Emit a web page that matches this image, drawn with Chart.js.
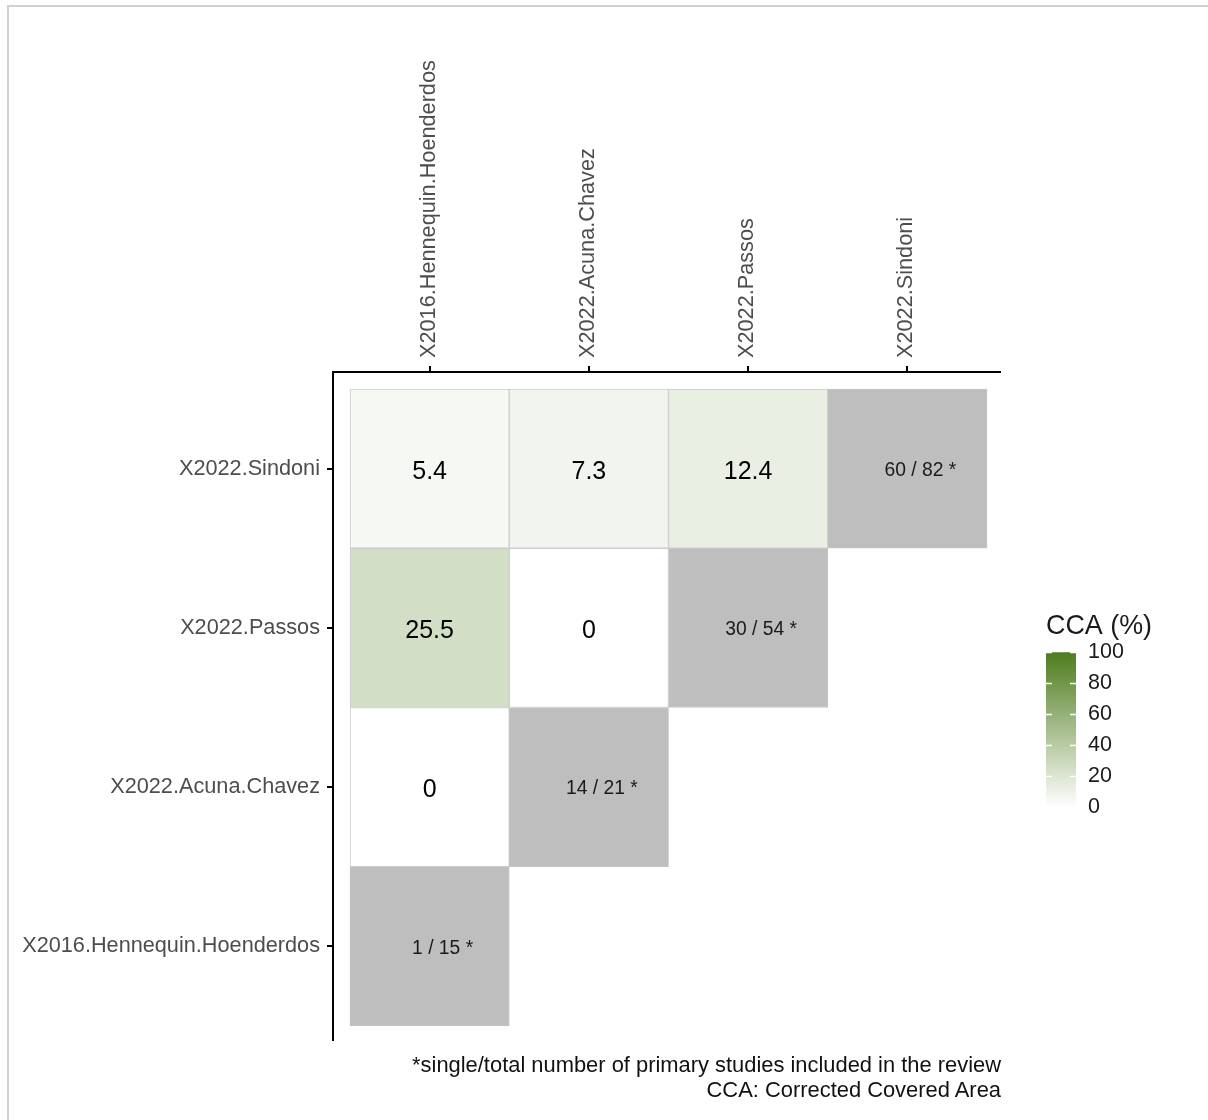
<!DOCTYPE html>
<html>
<head>
<meta charset="utf-8">
<script src="https://cdn.jsdelivr.net/npm/chart.js@4.4.1/dist/chart.umd.min.js"></script>
<style>
  body { margin: 0; background: #fff; }
  #wrap { position: relative; width: 1208px; height: 1120px; overflow: hidden; }
  #frame { position: absolute; left: 7px; top: 5px; width: 1220px; height: 1130px;
           border-top: 2px solid #d0d0d0; border-left: 2px solid #d0d0d0; }
  #main { position: absolute; left: 0; top: 0; }
  #legend { position: absolute; left: 1030px; top: 600px; }
  #caption { position: absolute; right: 207px; top: 1052px; text-align: right;
             font: 21.9px "Liberation Sans", Arial, sans-serif; line-height: 25px; color: #111; }
</style>
</head>
<body>
<div id="wrap">
  <div id="frame"></div>
  <canvas id="main" width="1208" height="1120"></canvas>
  <canvas id="legend" width="140" height="232"></canvas>
  <div id="caption">*single/total number of primary studies included in the review<br>CCA: Corrected Covered Area</div>
</div>
<script>
const FONT = '"Liberation Sans", Arial, sans-serif';

// studies, same order on both axes (y counts from the bottom)
const studies = ["X2016.Hennequin.Hoenderdos", "X2022.Acuna.Chavez", "X2022.Passos", "X2022.Sindoni"];

// CCA (%) of each row study against the earlier studies (columns)
const ccaHennequin = [];
const ccaAcunaChavez = [0];
const ccaPassos = [25.5, 0];
const ccaSindoni = [5.4, 7.3, 12.4];

// diagonal: single / total primary studies
const singleStudies = [1, 14, 30, 60];
const totalStudies = [15, 21, 54, 82];

const ccaTicks = [0, 20, 40, 60, 80, 100];

const ccaRows = [ccaHennequin, ccaAcunaChavez, ccaPassos, ccaSindoni];
const ccaCells = [];
ccaRows.forEach((vals, r) => {
  vals.forEach((v, c) => ccaCells.push({ x: c, y: [r - 0.5, r + 0.5], v: v }));
});
const diagCells = studies.map((s, i) => ({
  x: i, y: [i - 0.5, i + 0.5], label: singleStudies[i] + " / " + totalStudies[i] + " *"
}));

const LOW = [255, 255, 255];
const HIGH = [78, 124, 30];
function ccaColor(v) {
  const t = v / 100;
  const c = LOW.map((l, k) => Math.round(l + (HIGH[k] - l) * t));
  return "rgb(" + c.join(",") + ")";
}

// text inside the tiles
const cellLabels = {
  id: "cellLabels",
  afterDatasetsDraw(chart) {
    const ctx = chart.ctx;
    ctx.save();
    ctx.textAlign = "center";
    ctx.textBaseline = "middle";
    chart.getDatasetMeta(0).data.forEach((bar, i) => {
      ctx.font = "25px " + FONT;
      ctx.fillStyle = "#000";
      ctx.fillText(String(ccaCells[i].v), bar.x, (bar.y + bar.base) / 2 + 3);
    });
    chart.getDatasetMeta(1).data.forEach((bar, i) => {
      ctx.font = "19.3px " + FONT;
      ctx.fillStyle = "#1a1a1a";
      ctx.fillText(diagCells[i].label, bar.x + 13, (bar.y + bar.base) / 2 + 2);
    });
    ctx.restore();
  }
};

const axisTicks = (scale) => { scale.ticks = studies.map((s, i) => ({ value: i })); };

new Chart(document.getElementById("main"), {
  type: "bar",
  data: {
    datasets: [
      {
        data: ccaCells,
        backgroundColor: (ctx) => ccaColor(ctx.raw ? ctx.raw.v : 0),
        borderColor: "#cccccc",
        borderWidth: 1,
        borderSkipped: false,
        grouped: false,
        barPercentage: 1,
        categoryPercentage: 1
      },
      {
        data: diagCells,
        backgroundColor: "#bebebe",
        borderColor: "#c4c4c4",
        borderWidth: 1,
        borderSkipped: false,
        grouped: false,
        barPercentage: 1,
        categoryPercentage: 1
      }
    ]
  },
  options: {
    responsive: false,
    animation: false,
    layout: { padding: { left: 0, top: 0, right: 208, bottom: 80 } },
    plugins: { legend: { display: false }, tooltip: { enabled: false } },
    scales: {
      x: {
        type: "linear",
        position: "top",
        offset: false,
        min: -0.6067,
        max: 3.5816,
        afterBuildTicks: axisTicks,
        afterFit: (s) => { s.height = 372; },
        ticks: {
          autoSkip: false, minRotation: 90, maxRotation: 90, padding: 8, labelOffset: 25,
          color: "#4d4d4d", font: { family: FONT, size: 21.7 },
          callback: (v) => studies[v]
        },
        grid: { offset: false, drawOnChartArea: false, color: "#000", lineWidth: 2, tickLength: 6 },
        border: { color: "#000", width: 2 }
      },
      y: {
        type: "linear",
        min: -0.588,
        max: 3.6067,
        afterBuildTicks: axisTicks,
        afterFit: (s) => { s.width = 333; },
        ticks: {
          autoSkip: false, padding: 7,
          color: "#4d4d4d", font: { family: FONT, size: 21.7 },
          callback: (v) => studies[v]
        },
        grid: { drawOnChartArea: false, color: "#000", lineWidth: 2, tickLength: 6 },
        border: { color: "#000", width: 2 }
      }
    }
  },
  plugins: [cellLabels]
});

// colour bar legend
const barTicks = {
  id: "barTicks",
  afterDatasetsDraw(chart) {
    const ctx = chart.ctx;
    const a = chart.chartArea;
    const y = chart.scales.y;
    ctx.save();
    ctx.strokeStyle = "#fff";
    ctx.lineWidth = 1.5;
    ccaTicks.forEach((t) => {
      const py = Math.round(y.getPixelForValue(t)) + 0.5;
      ctx.beginPath();
      ctx.moveTo(a.left, py); ctx.lineTo(a.left + 6, py);
      ctx.moveTo(a.right - 6, py); ctx.lineTo(a.right, py);
      ctx.stroke();
    });
    ctx.restore();
  }
};

new Chart(document.getElementById("legend"), {
  type: "bar",
  data: {
    labels: ["CCA"],
    datasets: [{
      data: [[0, 100]],
      backgroundColor: (ctx) => {
        const chart = ctx.chart;
        if (!chart.chartArea) return ccaColor(50);
        const y = chart.scales.y;
        const g = chart.ctx.createLinearGradient(0, y.getPixelForValue(0), 0, y.getPixelForValue(100));
        g.addColorStop(0, ccaColor(0));
        g.addColorStop(1, ccaColor(100));
        return g;
      },
      borderWidth: 0,
      barPercentage: 1,
      categoryPercentage: 1
    }]
  },
  options: {
    responsive: false,
    animation: false,
    layout: { padding: { left: 16, top: 0, right: 0, bottom: 0 } },
    plugins: {
      legend: { display: false },
      tooltip: { enabled: false },
      title: {
        display: true, text: "CCA (%)", align: "start", color: "#1a1a1a",
        font: { family: FONT, size: 26.9, weight: "normal" },
        padding: { top: 10, bottom: 10 }
      }
    },
    scales: {
      x: { display: false },
      y: {
        position: "right",
        min: 0,
        max: 100,
        afterBuildTicks: (s) => { s.ticks = ccaTicks.map((v) => ({ value: v })); },
        afterFit: (s) => { s.width = 94; },
        grid: { display: false, drawTicks: false },
        border: { display: false },
        ticks: { padding: 12, color: "#1a1a1a", font: { family: FONT, size: 21.5 } }
      }
    }
  },
  plugins: [barTicks]
});
</script>
</body>
</html>
